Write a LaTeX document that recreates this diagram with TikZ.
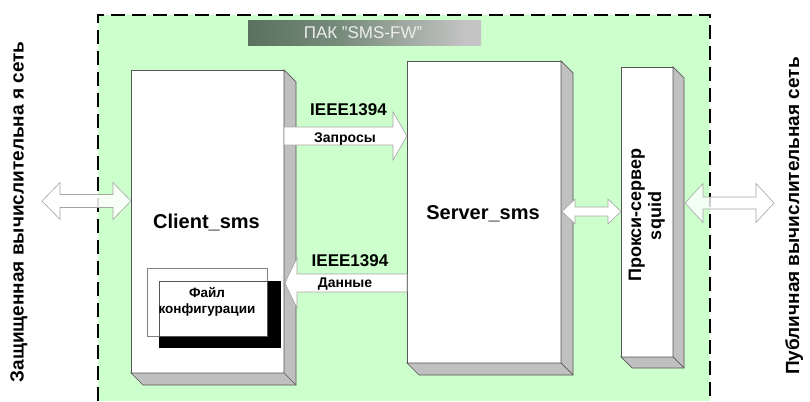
\documentclass[tikz,border=0pt]{standalone}
\usepackage{fontspec}
\setmainfont{Liberation Sans}
\usetikzlibrary{calc}
\definecolor{bggreen}{RGB}{204,255,204}
\definecolor{facegray}{RGB}{192,192,192}
\definecolor{edgegray}{RGB}{85,85,85}
\definecolor{bdark}{RGB}{52,80,58}
\definecolor{bmid}{RGB}{120,140,124}
\definecolor{bgray}{RGB}{196,196,196}
\definecolor{btext}{RGB}{236,236,236}
\definecolor{arrowedge}{RGB}{165,165,165}
\pgfdeclarehorizontalshading{bannershade}{100bp}{color(0bp)=(bdark); color(45bp)=(bmid); color(72bp)=(bgray); color(100bp)=(bgray)}
\newcommand{\depthfaces}[2]{%
  \draw[face] (#1.north east) -- ++(#2,#2) -- ($(#1.south east)+(#2,#2)$) -- ($(#1.south west)+(#2,#2)$) -- (#1.south west) -- (#1.south east) -- cycle;
  \draw[face] (#1.south east) -- ++(#2,#2);}
\newcommand{\rblock}[6][]{\path[barrow,#1] let \p1=(#2), \p2=(#3) in
  (\x1,\y1+#4pt) -- (\x2-#6pt,\y1+#4pt) -- (\x2-#6pt,\y1+#5pt) -- (\x2,\y1) -- (\x2-#6pt,\y1-#5pt) -- (\x2-#6pt,\y1-#4pt) -- (\x1,\y1-#4pt) -- cycle;}
\newcommand{\lblock}[6][]{\path[barrow,#1] let \p1=(#2), \p2=(#3) in
  (\x2,\y1+#4pt) -- (\x1+#6pt,\y1+#4pt) -- (\x1+#6pt,\y1+#5pt) -- (\x1,\y1) -- (\x1+#6pt,\y1-#5pt) -- (\x1+#6pt,\y1-#4pt) -- (\x2,\y1-#4pt) -- cycle;}
\newcommand{\dblock}[6][]{\path[barrow,#1] let \p1=(#2), \p2=(#3) in
  (\x1,\y1) -- (\x1+#6pt,\y1+#5pt) -- (\x1+#6pt,\y1+#4pt) -- (\x2-#6pt,\y1+#4pt) -- (\x2-#6pt,\y1+#5pt) -- (\x2,\y1) -- (\x2-#6pt,\y1-#5pt) -- (\x2-#6pt,\y1-#4pt) -- (\x1+#6pt,\y1-#4pt) -- (\x1+#6pt,\y1-#5pt) -- cycle;}
\begin{document}
\begin{tikzpicture}[x=1pt,y=-1pt,
  box/.style={draw=edgegray,fill=white,line width=0.7pt,inner sep=0pt,outer sep=0pt,anchor=north west},
  face/.style={draw=edgegray,fill=facegray,line width=0.7pt,line join=miter},
  barrow/.style={draw=arrowedge,fill=white,line width=0.6pt},
  lbl/.style={font=\bfseries\fontsize{#1}{#1}\selectfont,inner sep=0pt,anchor=base},
  border/.style={line width=1.5pt,dash pattern=on 14pt off 7pt}]
\useasboundingbox (0,0) rectangle (810,401);
% protected zone
\fill[bggreen] (98,15) rectangle (710,401);
\draw[border] (98,401) -- (98,15) -- (710,15) -- (710,401);
% banner
\node[inner sep=0pt,outer sep=0pt,anchor=north west,minimum width=233pt,minimum height=25pt,shading=bannershade] (banner) at (248,21) {};
\node[font=\fontsize{17}{17}\selectfont,text=btext,inner sep=0pt,anchor=base] (bannertext) at (363,39) {ПАК "SMS-FW"};
% boxes
\node[box,minimum width=153pt,minimum height=303pt] (client) at (131,70) {};
\depthfaces{client}{12}
\node[box,minimum width=154pt,minimum height=302pt] (server) at (407,61) {};
\depthfaces{server}{12}
\node[box,minimum width=52pt,minimum height=290pt] (proxy) at (621,67) {};
\depthfaces{proxy}{11}
% configuration file
\node[draw=gray,line width=0.6pt,inner sep=0pt,outer sep=0pt,anchor=north west,minimum width=120pt,minimum height=68pt] (cfgframe) at (147,268) {};
\node[fill=black,inner sep=0pt,outer sep=0pt,anchor=north west,minimum width=122pt,minimum height=67pt] (cfgshadow) at (159,281) {};
\node[draw=edgegray,fill=white,line width=0.6pt,inner sep=0pt,outer sep=0pt,anchor=north west,minimum width=108pt,minimum height=55pt] (cfg) at (159,281) {};
\node[lbl=13.5] (cfgt1) at (207,297) {Файл};
\node[lbl=13.5] (cfgt2) at (207,313) {конфигурации};
% connector coordinates
\coordinate (reqy) at (0,136);
\coordinate (daty) at (0,283);
\coordinate (spy) at (0,211.5);
\coordinate (secnet) at (42,201);
\coordinate (pubnet) at (774,203);
% block arrows
\rblock{client.east |- reqy}{server.west |- reqy}{9}{24}{14}
\lblock{$(client.east |- daty)+(1,0)$}{server.west |- daty}{9}{25}{12}
\dblock{$(server.east |- spy)+(1,0)$}{proxy.west |- spy}{4.5}{12.5}{13}
\dblock[fill opacity=0.85]{secnet}{client.west |- secnet}{6.5}{18.5}{18}
\dblock[fill opacity=0.8]{$(proxy.east |- pubnet)+(12,0)$}{pubnet}{6}{19.5}{18}
% labels
\node[lbl=20] (clientt) at (206.5,228) {Client\_sms};
\node[lbl=20] (servert) at (483,219) {Server\_sms};
\node[lbl=17] (ieee1) at (348.5,115) {IEEE1394};
\node[lbl=14] (req) at (345,142) {Запросы};
\node[lbl=17] (ieee2) at (350,266) {IEEE1394};
\node[lbl=14] (dat) at (345,287) {Данные};
\node[lbl=18,rotate=90] (proxyt1) at (641,215) {Прокси-сервер};
\node[lbl=18,rotate=90] (proxyt2) at (661,216) {squid};
\node[lbl=19,rotate=90] (secnett) at (23.5,212) {Защищенная вычислительна я сеть};
\node[lbl=19,rotate=90] (pubnett) at (799,216) {Публичная вычислительная сеть};
\end{tikzpicture}
\end{document}
